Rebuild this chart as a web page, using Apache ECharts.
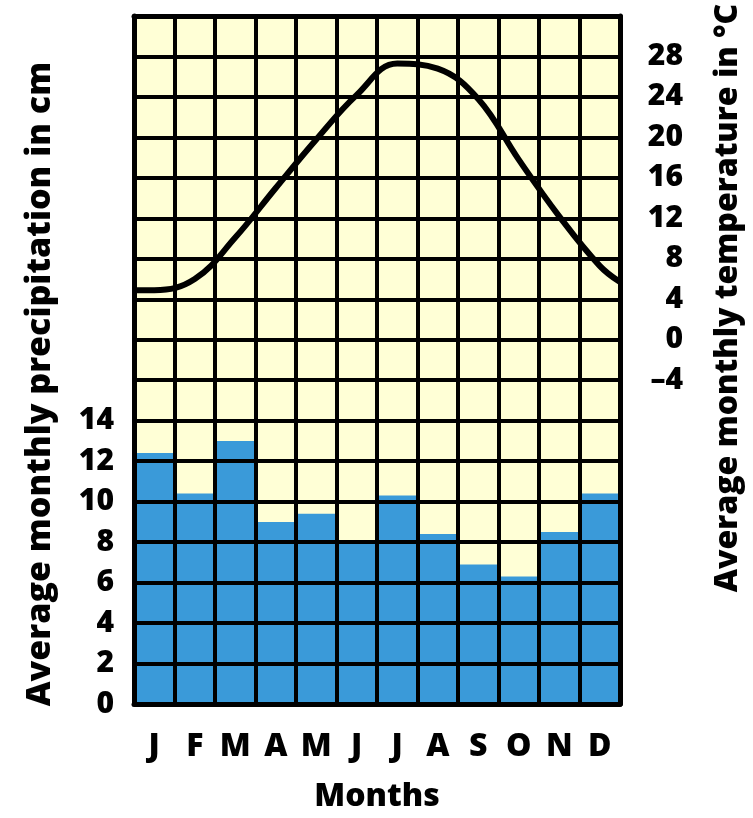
<!DOCTYPE html>
<html>
<head>
<meta charset="utf-8">
<script src="https://cdn.jsdelivr.net/npm/echarts@6/dist/echarts.min.js"></script>
<style>
html,body{margin:0;padding:0;background:#fff;}
#chart{width:753px;height:818px;}
</style>
</head>
<body>
<div id="chart"></div>
<script>
// ---- data ----
var months = ['J','F','M','A','M','J','J','A','S','O','N','D'];
var precipitation = [12.4, 10.4, 13.0, 9.0, 9.4, 8.0, 10.3, 8.4, 6.9, 6.3, 8.5, 10.4];
var temperature = [4.9, 6.0, 10.1, 15.0, 19.8, 24.2, 27.3, 26.8, 23.8, 17.8, 12.2, 7.3];
var temperatureYearStart = 4.9;
var temperatureYearEnd = 5.7;
var precipTickLabels = ['0','2','4','6','8','10','12','14'];
var tempTickLabels = ['\u20134','0','4','8','12','16','20','24','28'];

var FONT = 'Open Sans';
var W = 800;
var tempData = [[0, temperatureYearStart]];
temperature.forEach(function (t, i) { tempData.push([i + 0.5, t]); });
tempData.push([months.length, temperatureYearEnd]);

var chart = echarts.init(document.getElementById('chart'), null, {renderer: 'canvas'});
var black = '#000';
chart.setOption({
  backgroundColor: '#fff',
  animation: false,
  grid: {left: 134, right: 133, top: 16, bottom: 112, show: true, backgroundColor: '#ffffd6', borderWidth: 0},
  xAxis: [{
    type: 'category', data: months, position: 'bottom', z: 10,
    axisLine: {show: true, lineStyle: {color: black, width: 5}},
    axisTick: {show: false},
    splitLine: {show: true, interval: 0, lineStyle: {color: black, width: 4}},
    axisLabel: {color: black, fontFamily: FONT, fontWeight: W, fontSize: 32, margin: 27, interval: 0},
    name: 'Months', nameLocation: 'middle', nameGap: 77,
    nameTextStyle: {color: black, fontFamily: FONT, fontWeight: W, fontSize: 32}
  }, {
    type: 'value', min: 0, max: 12, position: 'top', z: 10,
    axisLine: {show: true, onZero: false, lineStyle: {color: black, width: 5}},
    axisTick: {show: false}, axisLabel: {show: false}, splitLine: {show: false}
  }],
  yAxis: [{
    type: 'value', min: 0, max: 34, interval: 2, position: 'left', z: 10,
    axisLine: {show: true, lineStyle: {color: black, width: 5}},
    axisTick: {show: false},
    splitLine: {show: true, lineStyle: {color: black, width: 4}},
    axisLabel: {color: black, fontFamily: FONT, fontWeight: W, fontSize: 30, margin: 20,
      formatter: function (v) { var s = String(v); return precipTickLabels.indexOf(s) >= 0 ? s : ''; }}
  }, {
    type: 'value', min: -36, max: 32, interval: 4, position: 'right', z: 10,
    axisLine: {show: true, lineStyle: {color: black, width: 5}},
    axisTick: {show: false},
    splitLine: {show: false},
    axisLabel: {color: black, fontFamily: FONT, fontWeight: W, fontSize: 30, margin: 63, align: 'right',
      formatter: function (v) { var s = v < 0 ? '\u2013' + Math.abs(v) : String(v); return tempTickLabels.indexOf(s) >= 0 ? s : ''; }}
  }],
  graphic: [{
    type: 'text', z: 20,
    x: 40, y: 384, rotation: Math.PI / 2,
    style: {text: 'Average monthly precipitation in cm', font: W + ' 34px "Open Sans"', fill: black, align: 'center', verticalAlign: 'middle'}
  }, {
    type: 'text', z: 20,
    x: 728, y: 298, rotation: Math.PI / 2,
    style: {text: 'Average monthly temperature in \u00B0C', font: W + ' 32px "Open Sans"', fill: black, align: 'center', verticalAlign: 'middle'}
  }],
  series: [{
    type: 'bar', data: precipitation, xAxisIndex: 0, yAxisIndex: 0,
    barWidth: '100%', barCategoryGap: 0, z: 2,
    itemStyle: {color: '#3a9ad9'}
  }, {
    type: 'line', data: tempData, xAxisIndex: 1, yAxisIndex: 1,
    smooth: 0.4, symbol: 'none', z: 5,
    lineStyle: {color: black, width: 6}
  }]
});
</script>
</body>
</html>
